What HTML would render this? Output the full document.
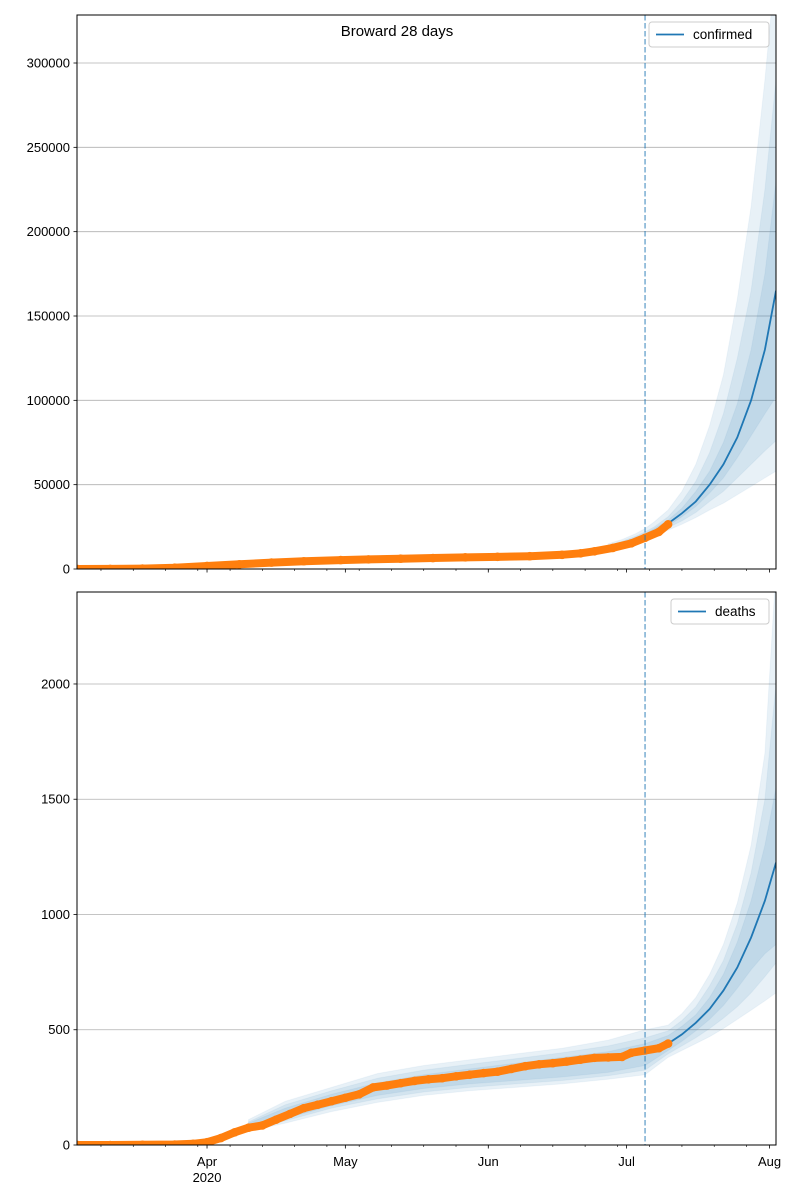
<!DOCTYPE html>
<html><head><meta charset="utf-8">
<style>
body{margin:0;background:#fff;}
svg{display:block;font-family:"Liberation Sans","DejaVu Sans",sans-serif;}
</style></head>
<body>
<svg id="chart" width="800" height="1200" viewBox="0 0 800 1200" xmlns="http://www.w3.org/2000/svg">
<rect width="800" height="1200" fill="#fff"/>
<text x="397" y="36" text-anchor="middle" font-size="15">Broward 28 days</text>
</svg>
<script>
// t = days since 2020-03-04
const monthTicks = [28, 58, 89, 119, 150];
const monthLabels = ["Apr", "May", "Jun", "Jul", "Aug"];
const forecastStart = 123;

const confTicks = [0, 50000, 100000, 150000, 200000, 250000, 300000];
const confDays = [0,7,14,21,28,35,42,49,57,63,70,77,84,91,98,105,109,112,116,120,123,126,128];
const confValues = [0,30,250,800,1800,2800,3800,4600,5300,5700,6100,6500,6900,7200,7600,8400,9300,10500,12500,15200,18500,22000,26500];
const confFcDays = [115,118,121,123,125,128,131,134,137,140,143,146,149,151.4];
const confMedian = [13000,15000,18000,20000,22500,27000,33000,40000,50000,62000,78000,100000,130000,165000];
const confOuterLo = [11000,13000,15500,17500,19500,23000,26500,30500,35000,39000,44000,49000,54000,58000];
const confOuterHi = [15000,17500,21000,24000,28000,35000,46000,62000,85000,115000,160000,215000,290000,360000];
const confMidLo = [12000,14000,16500,18500,21000,24500,28500,33500,40000,46000,54000,62000,70000,76000];
const confMidHi = [14000,16500,19500,22000,25000,31000,40000,52000,69000,92000,125000,165000,225000,290000];
const confInLo = [12500,14500,17000,19200,21500,25500,31000,37000,45000,54000,66000,79000,92000,102000];
const confInHi = [13500,15700,18800,21000,24000,29000,36000,46000,58000,75000,98000,130000,175000,230000];

const deathTicks = [0, 500, 1000, 1500, 2000];
const deathDays = [0,7,14,21,25,28,31,34,37,40,43,46,49,52,55,58,61,64,67,70,73,76,79,82,85,88,91,94,97,100,103,106,109,112,115,118,120,123,126,128];
const deathValues = [0,0,1,2,5,12,30,55,75,85,110,135,160,175,190,205,220,250,258,268,278,285,290,298,305,312,318,330,342,350,355,362,370,378,380,382,400,410,420,440];
const deathFcDays = [128,131,134,137,140,143,146,149,151.4];
const deathMedian = [440,480,530,590,670,770,900,1060,1225];
const deathBandDays = [37,45,55,65,75,85,95,105,115,123,128,131,134,137,140,143,146,149,151.4];
const deathOuterLo = [60,95,145,185,215,235,250,265,285,305,380,410,440,470,505,545,585,625,660];
const deathOuterHi = [110,190,250,310,345,370,395,420,455,500,520,570,640,740,870,1050,1300,1700,2500];
const deathMidLo = [65,105,160,200,230,250,265,280,300,325,395,430,465,505,550,600,660,730,790];
const deathMidHi = [100,175,235,290,325,350,375,400,430,465,495,540,600,690,800,960,1180,1500,2000];
const deathInLo = [70,115,170,215,245,265,280,295,315,345,410,450,495,545,605,680,760,830,870];
const deathInHi = [95,160,220,270,305,330,355,380,405,440,475,515,565,640,740,880,1060,1300,1550];

const NS = "http://www.w3.org/2000/svg";
const svg = document.getElementById("chart");
const X0 = 77, X1 = 776, T0 = -0.2, T1 = 151.4;
function xs(t){ return X0 + (t - T0) / (T1 - T0) * (X1 - X0); }
function mk(tag, attrs, parent){
  const e = document.createElementNS(NS, tag);
  for (const k in attrs) e.setAttribute(k, attrs[k]);
  (parent || svg).appendChild(e);
  return e;
}

function panel(cfg){
  const {top, bottom, ymax, name} = cfg;
  const ys = v => bottom - v / ymax * (bottom - top);
  const g = mk("g", {});
  
  
  const clipId = "clip-" + name;
  const cp = mk("clipPath", {id: clipId}, g);
  mk("rect", {x: X0, y: top, width: X1 - X0, height: bottom - top}, cp);
  cfg.yTicks.forEach(v => {
    const y = ys(v);
    if (v > 0) {
      const gl = mk("line", {x1: X0, x2: X1, y1: y, y2: y, stroke: "#b0b0b0", "stroke-width": 0.8}, g);
      
      
    }
    mk("line", {x1: X0 - 3.5, x2: X0, y1: y, y2: y, stroke: "#000", "stroke-width": 0.8}, g);
    const tx = mk("text", {x: X0 - 7, y: y + 4.5, "text-anchor": "end", "font-size": 13}, g);
    tx.textContent = v;
    
    
  });
  const dg = mk("g", {"clip-path": "url(#" + clipId + ")"}, g);
  cfg.bands.forEach(b => {
    let d = "";
    b.days.forEach((t, i) => { d += (i ? "L" : "M") + xs(t).toFixed(1) + "," + ys(b.lo[i]).toFixed(1); });
    for (let i = b.days.length - 1; i >= 0; i--) d += "L" + xs(b.days[i]).toFixed(1) + "," + ys(b.hi[i]).toFixed(1);
    const p = mk("path", {d: d + "Z", fill: "#1f77b4", "fill-opacity": 0.1, stroke: "#1f77b4", "stroke-opacity": 0.05}, dg);
    
    
  });
  // median (only forecast part drawn, from last observed day)
  const lastObs = cfg.obsDays[cfg.obsDays.length - 1];
  let md = "", first = true;
  cfg.fcDays.forEach((t, i) => {
    if (t < lastObs) return;
    md += (first ? "M" : "L") + xs(t).toFixed(1) + "," + ys(cfg.median[i]).toFixed(1);
    first = false;
  });
  const ml = mk("path", {d: md, fill: "none", stroke: "#1f77b4", "stroke-width": 1.8}, dg);
  
  
  let od = "";
  cfg.obsDays.forEach((t, i) => { od += (i ? "L" : "M") + xs(t).toFixed(1) + "," + ys(cfg.obsVals[i]).toFixed(1); });
  const ol = mk("path", {d: od, fill: "none", stroke: "#ff7f0e", "stroke-width": 8, "stroke-linecap": "round", "stroke-linejoin": "round"}, dg);
  
  
  cfg.obsDays.forEach((t, i) => {
    const c = mk("circle", {cx: xs(t), cy: ys(cfg.obsVals[i]), r: 4.3, fill: "#ff7f0e"}, dg);
    
    
  });
  const vx = xs(forecastStart);
  const vl = mk("line", {x1: vx, x2: vx, y1: top, y2: bottom, stroke: "#1f77b4", "stroke-opacity": 0.6, "stroke-width": 1.5, "stroke-dasharray": "5.5,2.5"}, g);
  
  
  for (let t = 5; t <= T1; t += 7) {
    mk("line", {x1: xs(t), x2: xs(t), y1: bottom, y2: bottom + 2, stroke: "#000", "stroke-width": 0.6}, g);
  }
  monthTicks.forEach((t, i) => {
    mk("line", {x1: xs(t), x2: xs(t), y1: bottom, y2: bottom + 3.5, stroke: "#000", "stroke-width": 0.8}, g);
    if (cfg.labels) {
      const tx = mk("text", {x: xs(t), y: bottom + 21, "text-anchor": "middle", "font-size": 13}, g);
      tx.textContent = monthLabels[i];
      
      
    }
  });
  if (cfg.labels) {
    const yr = mk("text", {x: xs(28), y: bottom + 37, "text-anchor": "middle", "font-size": 13}, g);
    yr.textContent = "2020";
    
    
  }
  const fr = mk("rect", {x: X0, y: top, width: X1 - X0, height: bottom - top, fill: "none", stroke: "#000", "stroke-width": 1}, g);
  
  
  const lg = mk("g", {}, g);
  
  
  const lw = cfg.legendW;
  mk("rect", {x: 769 - lw, y: top + 7, width: lw, height: 25, rx: 3, fill: "#fff", "fill-opacity": 0.8, stroke: "#cccccc", "stroke-width": 1}, lg);
  mk("line", {x1: 769 - lw + 7, x2: 769 - lw + 35, y1: top + 19.5, y2: top + 19.5, stroke: "#1f77b4", "stroke-width": 1.8}, lg);
  const lt = mk("text", {x: 769 - lw + 44, y: top + 24, "font-size": 13.5}, lg);
  lt.textContent = name;
  
  
}

panel({name: "confirmed", top: 15, bottom: 569, ymax: 328460, yTicks: confTicks, labels: false, legendW: 120,
  obsDays: confDays, obsVals: confValues, fcDays: confFcDays, median: confMedian,
  bands: [
    {days: confFcDays, lo: confOuterLo, hi: confOuterHi},
    {days: confFcDays, lo: confMidLo, hi: confMidHi},
    {days: confFcDays, lo: confInLo, hi: confInHi}
  ]});
panel({name: "deaths", top: 592, bottom: 1145, ymax: 2399, yTicks: deathTicks, labels: true, legendW: 98,
  obsDays: deathDays, obsVals: deathValues, fcDays: deathFcDays, median: deathMedian,
  bands: [
    {days: deathBandDays, lo: deathOuterLo, hi: deathOuterHi},
    {days: deathBandDays, lo: deathMidLo, hi: deathMidHi},
    {days: deathBandDays, lo: deathInLo, hi: deathInHi}
  ]});
</script>
</body></html>
